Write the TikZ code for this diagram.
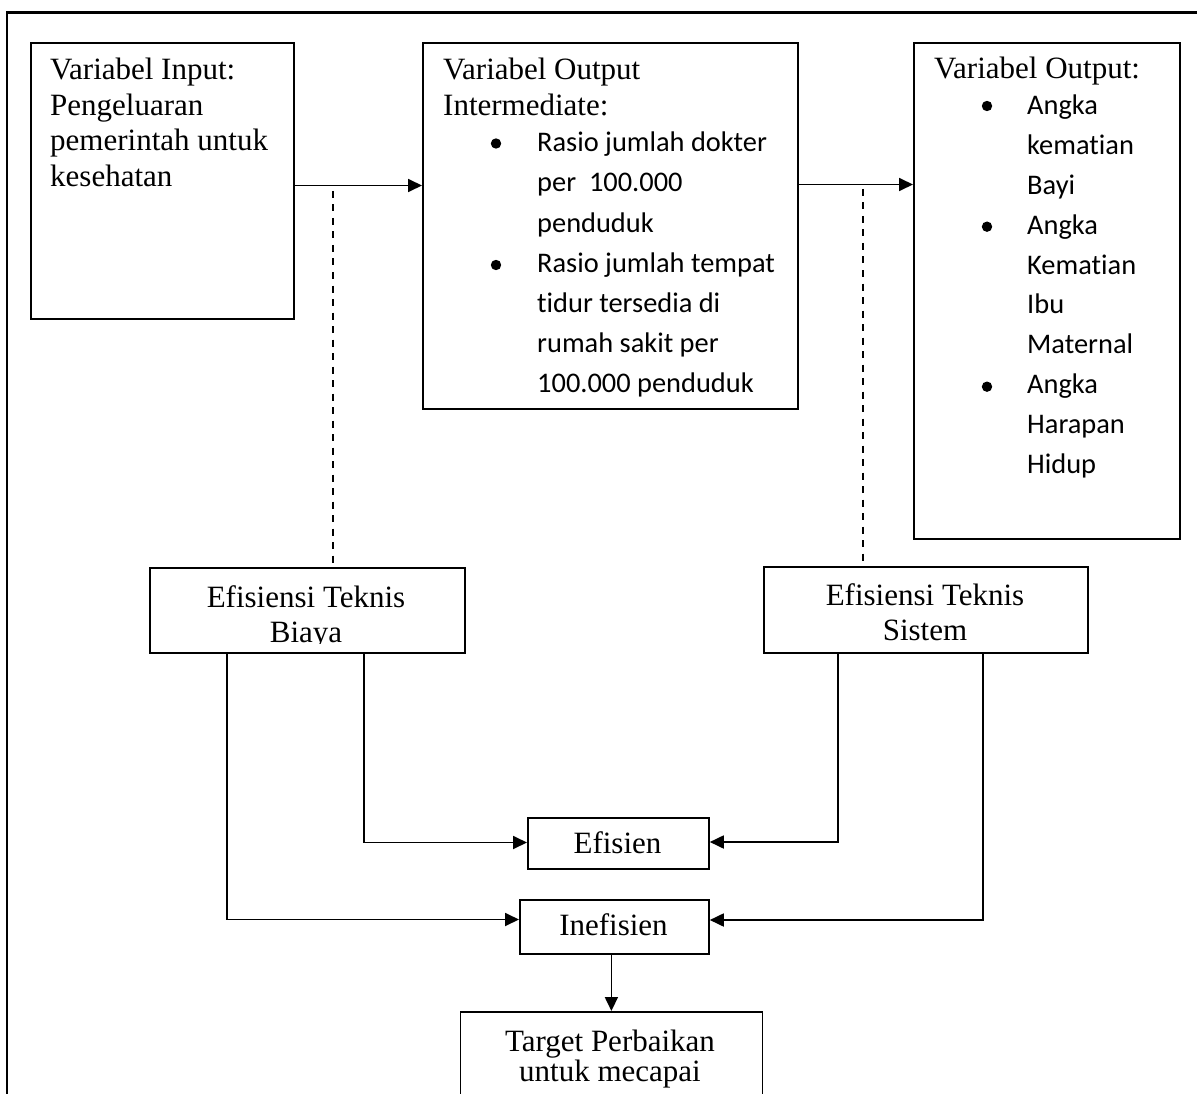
\documentclass[tikz,border=0pt]{standalone}
\usepackage{fontspec}
\setmainfont{Liberation Serif}
\newfontfamily\calibfont[Ligatures=NoCommon]{Carlito}
\usetikzlibrary{arrows.meta,calc}
\newcommand{\serifbody}{\fontsize{31}{35.5}\selectfont}
\newcommand{\calibbody}{\calibfont\fontsize{28.4}{40.2}\selectfont}
\tikzset{
  box/.style={draw, line width=1.8pt, inner sep=0pt, anchor=north west},
  arr/.style={line width=1.8pt, -{Triangle[length=14pt,width=13pt]}},
  dashln/.style={line width=1.8pt, dash pattern=on 7pt off 6.5pt},
  frameln/.style={line width=2.3pt},
  txt/.style={inner sep=0pt, anchor=base west},
  ctxt/.style={inner sep=0pt, anchor=base},
  bul/.style={fill=black}
}
\begin{document}
\begin{tikzpicture}[x=1pt,y=-1pt]
\useasboundingbox (0,0) rectangle (1197,1094);
\clip (0,0) rectangle (1197,1094);
% outer frame (cropped)
\draw[frameln] (7,1100) -- (7,12.5) -- (1200,12.5);

% boxes
\node[box, minimum width=263pt, minimum height=276pt] (in) at (30,42) {};
\node[box, minimum width=375pt, minimum height=366pt] (mid) at (422,42) {};
\node[box, minimum width=266pt, minimum height=496pt] (out) at (913,42) {};
\node[box, minimum width=315pt, minimum height=85pt] (biaya) at (149,567) {};
\node[box, minimum width=324pt, minimum height=86pt] (sistem) at (763,566) {};
\node[box, minimum width=181pt, minimum height=51pt] (efi) at (527,816.7) {};
\node[box, minimum width=189pt, minimum height=54pt] (inef) at (519,898.7) {};
\node[box, minimum width=302pt, minimum height=120pt] (target) at (459.5,1011) {};

% texts
\node[txt] (inT) at (50,80) {\begin{minipage}[t]{240pt}\raggedright\serifbody Variabel Input:\\Pengeluaran\\pemerintah untuk\\kesehatan\end{minipage}};
\node[txt] (midT) at (443,80) {\begin{minipage}[t]{340pt}\raggedright\serifbody Variabel Output\\Intermediate:\end{minipage}};
\node[txt] (midL) at (537,151.7) {\begin{minipage}[t]{250pt}\raggedright\calibbody Rasio jumlah dokter\\per\ \ 100.000\\penduduk\\Rasio jumlah tempat\\tidur tersedia di\\rumah sakit per\\100.000 penduduk\end{minipage}};
\fill[bul] (496,143.5) circle [radius=5.2pt];
\fill[bul] (496,265) circle [radius=5.2pt];

\node[txt] (outT) at (934,78.3) {\serifbody Variabel Output:};
\node[txt] (outL) at (1027,115) {\begin{minipage}[t]{150pt}\raggedright\calibfont\fontsize{28.4}{39.8}\selectfont Angka\\kematian\\Bayi\\Angka\\Kematian\\Ibu\\Maternal\\Angka\\Harapan\\Hidup\end{minipage}};
\fill[bul] (987,106) circle [radius=5.2pt];
\fill[bul] (987,226.7) circle [radius=5.2pt];
\fill[bul] (987,386.7) circle [radius=5.2pt];

\begin{scope}
\clip (149,560) rectangle (464,643.2);
\node[ctxt] (biayaT) at (306,607) {\begin{minipage}[t]{300pt}\centering\fontsize{31}{35}\selectfont Efisiensi Teknis\\Biaya\end{minipage}};
\end{scope}
\node[ctxt] (sistemT) at (925,605) {\begin{minipage}[t]{300pt}\centering\fontsize{31}{35}\selectfont Efisiensi Teknis\\Sistem\end{minipage}};
\node[ctxt] (efiT) at (617.5,853.3) {\serifbody Efisien};
\node[ctxt] (inefT) at (613.5,935) {\serifbody Inefisien};
\node[ctxt] (targetT) at (610,1051.7) {\begin{minipage}[t]{290pt}\centering\fontsize{31}{30}\selectfont Target Perbaikan\\untuk mecapai\end{minipage}};

% connectors
\coordinate (a1) at (0,185.5);
\coordinate (a2) at (0,184.5);
\draw[arr] (in.east |- a1) -- (mid.west |- a1);
\draw[arr] (mid.east |- a2) -- (out.west |- a2);

\coordinate (d1) at (333,191);
\coordinate (d2) at (863,189);
\draw[dashln] (d1) -- (d1 |- biaya.north);
\draw[dashln] (d2) -- (d2 |- sistem.north);

\coordinate (l1) at (227,919.5);
\coordinate (l2) at (364,842.5);
\coordinate (r1) at (838,842);
\coordinate (r2) at (983,920);
\draw[arr] (biaya.south -| l1) -- (l1) -- (inef.west |- l1);
\draw[arr] (biaya.south -| l2) -- (l2) -- (efi.west |- l2);
\draw[arr] (sistem.south -| r1) -- (r1) -- (efi.east |- r1);
\draw[arr] (sistem.south -| r2) -- (r2) -- (inef.east |- r2);
\draw[arr] (target.north |- inef.south) -- (target.north);
\end{tikzpicture}
\end{document}
